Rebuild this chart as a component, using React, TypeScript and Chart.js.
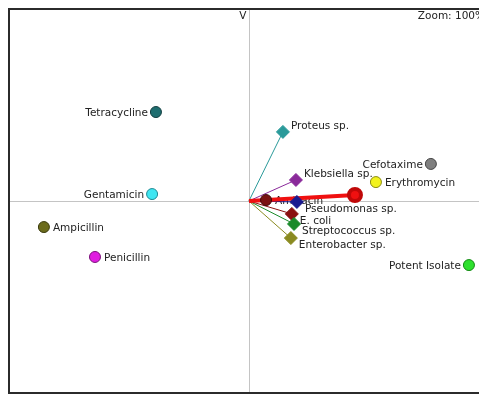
import React, { useEffect, useRef } from "react";
import { Chart, registerables } from "chart.js";

Chart.register(...registerables);

// Antibiotics / isolate (circle markers)
const drugNames = ["Tetracycline", "Gentamicin", "Ampicillin", "Penicillin", "Cefotaxime", "Erythromycin", "Potent Isolate", "Amikacin"];
const drugX = [-0.386, -0.402, -0.851, -0.639, 0.755, 0.527, 0.913, 0.071];
const drugY = [0.461, 0.036, -0.135, -0.29, 0.192, 0.098, -0.332, 0.005];
const drugColors = ["#1f6e70", "#3fe6f2", "#6b6b1c", "#e01ee0", "#7f7f7f", "#f2f21e", "#2ee02e", "#7a1212"];
const drugOutline = ["#0f3c3e", "#1c8a94", "#3a3a0c", "#7a107a", "#444444", "#8a8a10", "#128a12", "#400808"];
const drugLabelSide = ["left", "left", "right", "right", "left", "right", "left", "right"];

// Species (diamond markers, vectors from origin)
const speciesNames = ["Proteus sp.", "Klebsiella sp.", "Pseudomonas sp.", "E. coli", "Streptococcus sp.", "Enterobacter sp."];
const speciesX = [0.141, 0.195, 0.199, 0.178, 0.187, 0.174];
const speciesY = [0.358, 0.109, -0.005, -0.067, -0.119, -0.192];
const speciesColors = ["#2a9a9a", "#8a2a9a", "#1a1a90", "#8a1010", "#1a8a2a", "#8a8a20"];

// Red reference vector
const refX = [0, 0.44];
const refY = [0, 0.031];

export default function App() {
  const ref = useRef<HTMLCanvasElement>(null);
  useEffect(() => {
    document.body.style.overflow = "hidden";
    const font = '10.5px "DejaVu Sans"';
    const labelPlugin = {
      id: "labels",
      beforeDatasetsDraw(chart: any) {
        const ctx = chart.ctx;
        const xs = chart.scales.x;
        const ys = chart.scales.y;
        const { left, top, right, bottom } = chart.chartArea;
        ctx.save();
        // axes through origin
        const ox = Math.round(xs.getPixelForValue(0)) + 0.5;
        const oy = Math.round(ys.getPixelForValue(0)) + 0.5;
        ctx.strokeStyle = "#c4c4c4";
        ctx.lineWidth = 1;
        ctx.beginPath();
        ctx.moveTo(ox, top);
        ctx.lineTo(ox, bottom);
        ctx.moveTo(left, oy);
        ctx.lineTo(right, oy);
        ctx.stroke();
        // frame
        ctx.strokeStyle = "#2b2b2b";
        ctx.lineWidth = 2;
        ctx.beginPath();
        ctx.moveTo(right + 5, top + 1);
        ctx.lineTo(left + 1, top + 1);
        ctx.lineTo(left + 1, bottom - 1);
        ctx.lineTo(right + 5, bottom - 1);
        ctx.stroke();

        ctx.font = font;
        ctx.fillStyle = "#222";
        ctx.textBaseline = "middle";
        // axis letters and zoom text
        ctx.textAlign = "right";
        ctx.fillText("V", ox - 3, top + 8);
        ctx.fillText("Zoom: 100%", right - 2, top + 8);
        ctx.fillText("U", right - 1, oy + 7);

        // drug labels
        drugNames.forEach((n, i) => {
          const px = xs.getPixelForValue(drugX[i]);
          const py = ys.getPixelForValue(drugY[i]);
          if (drugLabelSide[i] === "left") {
            ctx.textAlign = "right";
            ctx.fillText(n, px - 8, py + 1);
          } else {
            ctx.textAlign = "left";
            ctx.fillText(n, px + 9, py + 1);
          }
        });
        // species labels
        ctx.textAlign = "left";
        speciesNames.forEach((n, i) => {
          const px = xs.getPixelForValue(speciesX[i]);
          const py = ys.getPixelForValue(speciesY[i]);
          ctx.fillText(n, px + 8, py + (speciesY[i] > 0 ? -6 : 7));
        });
        ctx.restore();
      },
    };

    const datasets: any[] = [];
    datasets.push({
      type: "scatter",
      data: speciesX.map((x, i) => ({ x, y: speciesY[i] })),
      pointStyle: "rectRot",
      pointRadius: 6.5,
      backgroundColor: speciesColors,
      borderColor: speciesColors,
      borderWidth: 1,
    });
    datasets.push({
      type: "scatter",
      data: drugX.map((x, i) => ({ x, y: drugY[i] })),
      pointStyle: "circle",
      pointRadius: 5.5,
      backgroundColor: drugColors,
      borderColor: drugOutline,
      borderWidth: 1,
    });
    datasets.push({
      type: "scatter",
      data: refX.map((x, i) => ({ x, y: refY[i] })),
      showLine: true,
      borderColor: "#f01010",
      borderWidth: 4,
      pointRadius: [0, 6],
      pointBackgroundColor: "#f01010",
      pointBorderColor: "#c00808",
    });
    speciesX.forEach((x, i) => {
      datasets.push({
        type: "scatter",
        data: [
          { x: 0, y: 0 },
          { x, y: speciesY[i] },
        ],
        showLine: true,
        borderColor: speciesColors[i],
        borderWidth: 1,
        pointRadius: 0,
      });
    });

    const chart = new Chart(ref.current!, {
      type: "scatter",
      data: { datasets },
      options: {
        animation: false,
        responsive: false,
        layout: { padding: 0, autoPadding: false },
        plugins: { legend: { display: false }, tooltip: { enabled: false } },
        scales: {
          x: { type: "linear", min: -1, max: 0.988, display: false },
          y: { type: "linear", min: -1, max: 1, display: false },
        },
      },
      plugins: [labelPlugin],
    });
    return () => chart.destroy();
  }, []);
  return <canvas ref={ref} width={479} height={386} style={{ display: "block" }} />;
}
